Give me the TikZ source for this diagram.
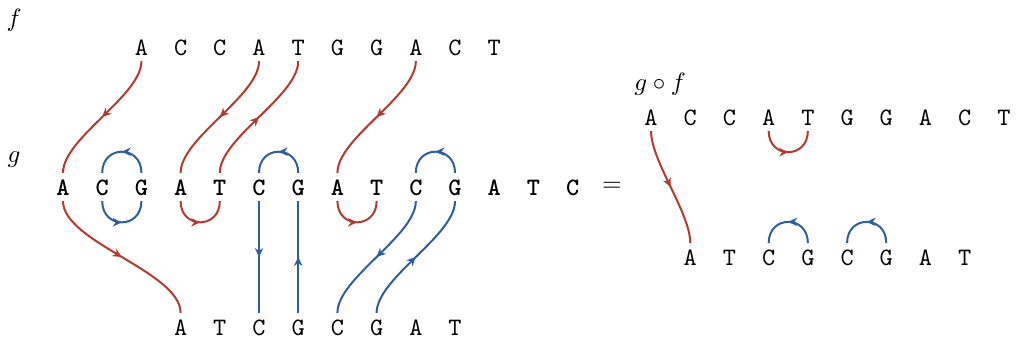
\documentclass[tikz,border=0pt]{standalone}
\usetikzlibrary{arrows.meta,decorations.markings}

\definecolor{rojo}{RGB}{178,58,48}
\definecolor{azul}{RGB}{46,94,158}

\begin{document}
\begin{tikzpicture}[
  x=0.55cm, y=0.55cm,
  base/.style={inner sep=2pt, text height=1.6ex, text depth=0pt, font=\ttfamily},
  negra/.style={base, font=\ttfamily\bfseries},
  medio/.style={postaction={decorate}, decoration={markings,
    mark=at position 0.5 with {\arrow{Stealth[length=3.6pt, width=3.4pt]}}}},
  hilo/.style={line width=0.8pt, medio},
  rojo/.style={hilo, draw=rojo},
  azul/.style={hilo, draw=azul},
  copa/.style={to path={.. controls +(0,-0.72) and +(0,-0.72) .. (\tikztotarget)}},
  arco/.style={to path={.. controls +(0,0.72) and +(0,0.72) .. (\tikztotarget)}},
  baja/.style={out=-90, in=90, looseness=0.65},
  sube/.style={out=90, in=-90, looseness=0.65}]
\useasboundingbox (-1.607,-4.06) rectangle (24.36,4.77);
% Las tres cadenas de la izquierda
\foreach \c [count=\i] in {A,C,C,A,T,G,G,A,C,T}
  \node[base] (f\i) at (\i+1,3.57) {\c};
\foreach \c [count=\i] in {A,C,G,A,T,C,G,A,T,C,G,A,T,C}
  \node[negra] (g\i) at (\i-1,0) {\c};
\foreach \c [count=\i] in {A,T,C,G,C,G,A,T}
  \node[base] (h\i) at (\i+2,-3.57) {\c};
% Composicion, a la derecha
\foreach \c [count=\i] in {A,C,C,A,T,G,G,A,C,T}
  \node[base] (p\i) at (\i+14,1.79) {\c};
\foreach \c [count=\i] in {A,T,C,G,C,G,A,T}
  \node[base] (q\i) at (\i+15,-1.79) {\c};
% Rotulos
\node (lf) at (-1.25,4.26) {$f$};
\node (lg) at (-1.25,0.69) {$g$};
\node (lgf) at (15.23,2.63) {$g\circ f$};
\node (igual) at (14,0) {$=$};
% Hilos de f
\draw[rojo] (f1.south) to[baja] (g1.north);
\draw[rojo] (f4.south) to[baja] (g4.north);
\draw[rojo] (g5.north) to[sube] (f5.south);
\draw[rojo] (f8.south) to[baja] (g8.north);
\draw[rojo] (g4.south) to[copa] (g5.south);
\draw[rojo] (g8.south) to[copa] (g9.south);
\draw[rojo] (g1.south) to[baja] (h1.north);
% Hilos de g
\draw[azul] (g3.north) to[arco] (g2.north);
\draw[azul] (g2.south) to[copa] (g3.south);
\draw[azul] (g7.north) to[arco] (g6.north);
\draw[azul] (g6.south) -- (h3.north);
\draw[azul] (h4.north) -- (g7.south);
\draw[azul] (g11.north) to[arco] (g10.north);
\draw[azul] (g10.south) to[baja] (h5.north);
\draw[azul] (h6.north) to[sube] (g11.south);
% Hilos de g o f
\draw[rojo] (p1.south) to[baja] (q1.north);
\draw[rojo] (p4.south) to[copa] (p5.south);
\draw[azul] (q4.north) to[arco] (q3.north);
\draw[azul] (q6.north) to[arco] (q5.north);
\end{tikzpicture}
\end{document}
